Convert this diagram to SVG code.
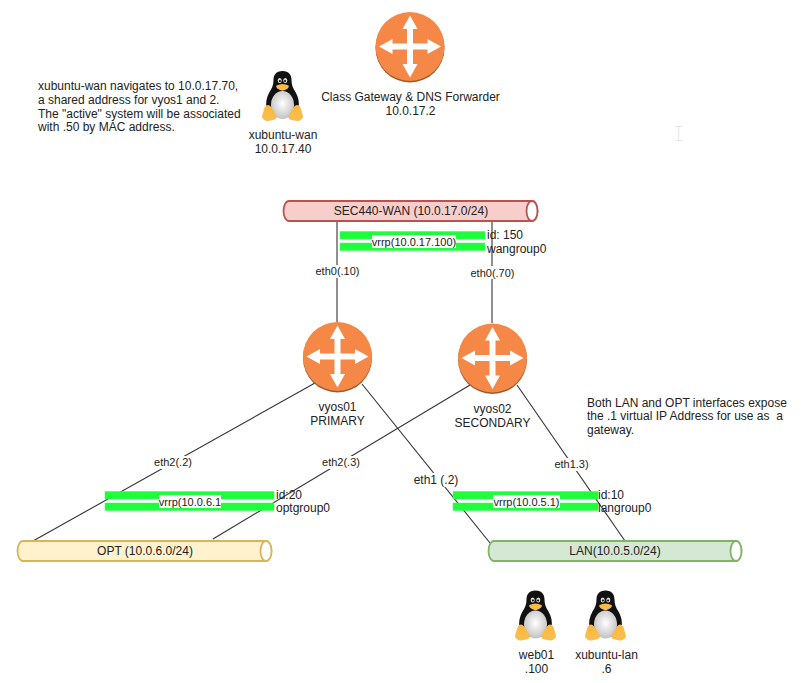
<svg xmlns="http://www.w3.org/2000/svg" width="803" height="683" viewBox="0 0 803 683">
<style>
text{font-family:"Liberation Sans",Arial,sans-serif;fill:#222;white-space:pre}
.n{font-size:12px;text-anchor:middle}
.e{font-size:11px;text-anchor:middle}
.l{font-size:12px}
.c{fill:none;stroke:#333;stroke-width:1.1}
.bar{fill:#1eff3c;stroke:#3cfb5a;stroke-width:.5}
.w{fill:#fff}
</style>
<defs>
<g id="router">
<circle cx="0" cy="1.500" r="34.500" fill="#9b5a2b"/>
<circle cx="0" cy="0" r="34.500" fill="#f58747"/>
<path fill="#fff" d="M0-31L7.500-17.500H3V-3H17.500V-7.500L31 0L17.500 7.500V3H3V17.500H7.500L0 31L-7.500 17.500H-3V3H-17.500V7.500L-31 0L-17.500-7.500V-3H-3V-17.500H-7.500Z"/>
</g>
<radialGradient id="belly" cx=".5" cy=".45" r=".6"><stop offset="0" stop-color="#fff"/><stop offset="1" stop-color="#bdbdbd"/></radialGradient>
<linearGradient id="foot" x1="0" y1="0" x2="0" y2="1"><stop offset="0" stop-color="#fdb73e"/><stop offset="1" stop-color="#f7c04f"/></linearGradient>
<g id="tux">
<path fill="#111" d="M0 0C-6.500 0-9 4-9 9C-9 14-10.500 17-13 21C-16 26-17 32-16 37L-12 46H12L16 37C17 32 16 26 13 21C10.500 17 9 14 9 9C9 4 6.500 0 0 0Z"/>
<ellipse cx="0" cy="34" rx="11.500" ry="14" fill="url(#belly)"/>
<ellipse cx="-2.800" cy="9.500" rx="2" ry="2.600" fill="#ddd"/>
<ellipse cx="2.800" cy="9.500" rx="2" ry="2.600" fill="#ddd"/>
<circle cx="-2.600" cy="10" r="1.100" fill="#111"/><circle cx="2.600" cy="10" r="1.100" fill="#111"/>
<path fill="url(#foot)" d="M-6 14.500C-2 12.500 2 12.500 6 14.500C7 15.500 6 17 3.500 18.500C1 20-1 20-3.500 18.500C-6 17-7 15.500-6 14.500Z"/>
<path fill="url(#foot)" d="M-14.500 34C-12.500 34-10.500 36.500-9 39.500C-7.500 42-5.500 44.500-6 47C-7 49.500-11 49-14.500 50C-17 50.500-19 48.500-20.500 46.500C-20.500 44-19.500 42.500-19 40C-18.500 37-17 34-14.500 34Z"/>
<path fill="url(#foot)" d="M14.500 34C12.500 34 10.500 36.500 9 39.500C7.500 42 5.500 44.500 6 47C7 49.500 11 49 14.500 50C17 50.500 19 48.500 20.500 46.500C20.500 44 19.500 42.500 19 40C18.500 37 17 34 14.500 34Z"/>
</g>
</defs>
<rect width="803" height="683" fill="#fff"/>
<g id="connectors">
<path class="c" d="M337 221V322"/>
<path class="c" d="M492 222V323"/>
<path class="c" d="M315 383L33 541"/>
<path class="c" d="M470 385L213 539"/>
<path class="c" d="M362 384L490 543"/>
<path class="c" d="M517 385L625 541"/>
<rect class="w" x="316" y="265" width="43" height="13"/><text class="e" x="337.500" y="275">eth0(.10)</text>
<rect class="w" x="471" y="266" width="43" height="13"/><text class="e" x="492.500" y="276.500">eth0(.70)</text>
<rect class="w" x="154" y="456" width="38" height="13"/><text class="e" x="173" y="466">eth2(.2)</text>
<rect class="w" x="322" y="456" width="38" height="13"/><text class="e" x="341" y="466">eth2(.3)</text>
<rect class="w" x="413" y="473" width="46" height="14"/><text class="n" x="436" y="484">eth1 (.2)</text>
<rect class="w" x="554" y="458" width="35" height="13"/><text class="e" x="571.500" y="468">eth1.3)</text>
</g>
<g id="gateway"><use href="#router" x="410" y="46.500"/><text class="n" x="410.500" y="101">Class Gateway &amp; DNS Forwarder</text><text class="n" x="410.500" y="115">10.0.17.2</text></g>
<g id="xubuntu-wan"><use href="#tux" x="282.500" y="71"/><text class="n" x="283" y="139">xubuntu-wan</text><text class="n" x="283" y="153">10.0.17.40</text></g>
<g id="note-wan"><text class="l" x="38" y="90">xubuntu-wan navigates to 10.0.17.70,</text><text class="l" x="38" y="104">a shared address for vyos1 and 2.</text><text class="l" x="38" y="118">The "active" system will be associated</text><text class="l" x="38" y="131">with .50 by MAC address.</text></g>
<g id="cursor"><path d="M675.500 126.500H682M678.700 126.500V140.500M675.500 140.500H682" fill="none" stroke="#e4e4e4" stroke-width="1"/></g>
<g id="sec440-wan"><path d="M289 201H532A5.500 10 0 0 1 532 221H289A5.500 10 0 0 1 289 201Z" fill="#f8cecc" stroke="#b85450" stroke-width="1.800"/><ellipse cx="532" cy="211" rx="5.500" ry="10" fill="#fff" stroke="#b85450" stroke-width="1.800"/><text class="n" x="411" y="215">SEC440-WAN (10.0.17.0/24)</text></g>
<g id="vrrp-wan"><rect class="bar" x="340" y="231.500" width="145" height="7.500"/><rect class="bar" x="340" y="243" width="145" height="7.500"/><rect class="w" x="372" y="235" width="84" height="13"/><text class="e" x="414" y="245.500">vrrp(10.0.17.100)</text><text class="l" x="487" y="239">id: 150</text><text class="l" x="487" y="253">wangroup0</text></g>
<g id="vyos01"><use href="#router" x="337.500" y="356.500"/><text class="n" x="337.500" y="411">vyos01</text><text class="n" x="337.500" y="425">PRIMARY</text></g>
<g id="vyos02"><use href="#router" x="492.500" y="358"/><text class="n" x="492.500" y="413">vyos02</text><text class="n" x="492.500" y="427">SECONDARY</text></g>
<g id="note-lan"><text class="l" x="587" y="407">Both LAN and OPT interfaces expose</text><text class="l" x="587" y="420">the .1 virtual IP Address for use as  a</text><text class="l" x="587" y="434">gateway.</text></g>
<g id="vrrp-opt"><rect class="bar" x="105" y="491.500" width="169" height="7.500"/><rect class="bar" x="105" y="503" width="169" height="7.500"/><rect class="w" x="159" y="495" width="62" height="13"/><text class="e" x="190" y="506">vrrp(10.0.6.1</text><text class="l" x="276" y="499">id:20</text><text class="l" x="276" y="512">optgroup0</text></g>
<g id="vrrp-lan"><rect class="bar" x="453" y="491.500" width="145" height="7.500"/><rect class="bar" x="453" y="503" width="145" height="7.500"/><rect class="w" x="493" y="495" width="67" height="13"/><text class="e" x="526.500" y="506">vrrp(10.0.5.1)</text><text class="l" x="598" y="499">id:10</text><text class="l" x="598" y="512">langroup0</text></g>
<g id="opt"><path d="M23 541H266A5.500 10 0 0 1 266 561H23A5.500 10 0 0 1 23 541Z" fill="#fff2cc" stroke="#d6b656" stroke-width="1.800"/><ellipse cx="266" cy="551" rx="5.500" ry="10" fill="#fff" stroke="#d6b656" stroke-width="1.800"/><text class="n" x="145" y="555">OPT (10.0.6.0/24)</text></g>
<g id="lan"><path d="M494 541H736A5.500 10 0 0 1 736 561H494A5.500 10 0 0 1 494 541Z" fill="#d5e8d4" stroke="#82b366" stroke-width="1.800"/><ellipse cx="736" cy="551" rx="5.500" ry="10" fill="#fff" stroke="#82b366" stroke-width="1.800"/><text class="n" x="615" y="555">LAN(10.0.5.0/24)</text></g>
<g id="web01"><use href="#tux" x="535.500" y="590.500"/><text class="n" x="536.500" y="659">web01</text><text class="n" x="536.500" y="673">.100</text></g>
<g id="xubuntu-lan"><use href="#tux" x="605.500" y="590.500"/><text class="n" x="606.500" y="659">xubuntu-lan</text><text class="n" x="606.500" y="673">.6</text></g>
</svg>
